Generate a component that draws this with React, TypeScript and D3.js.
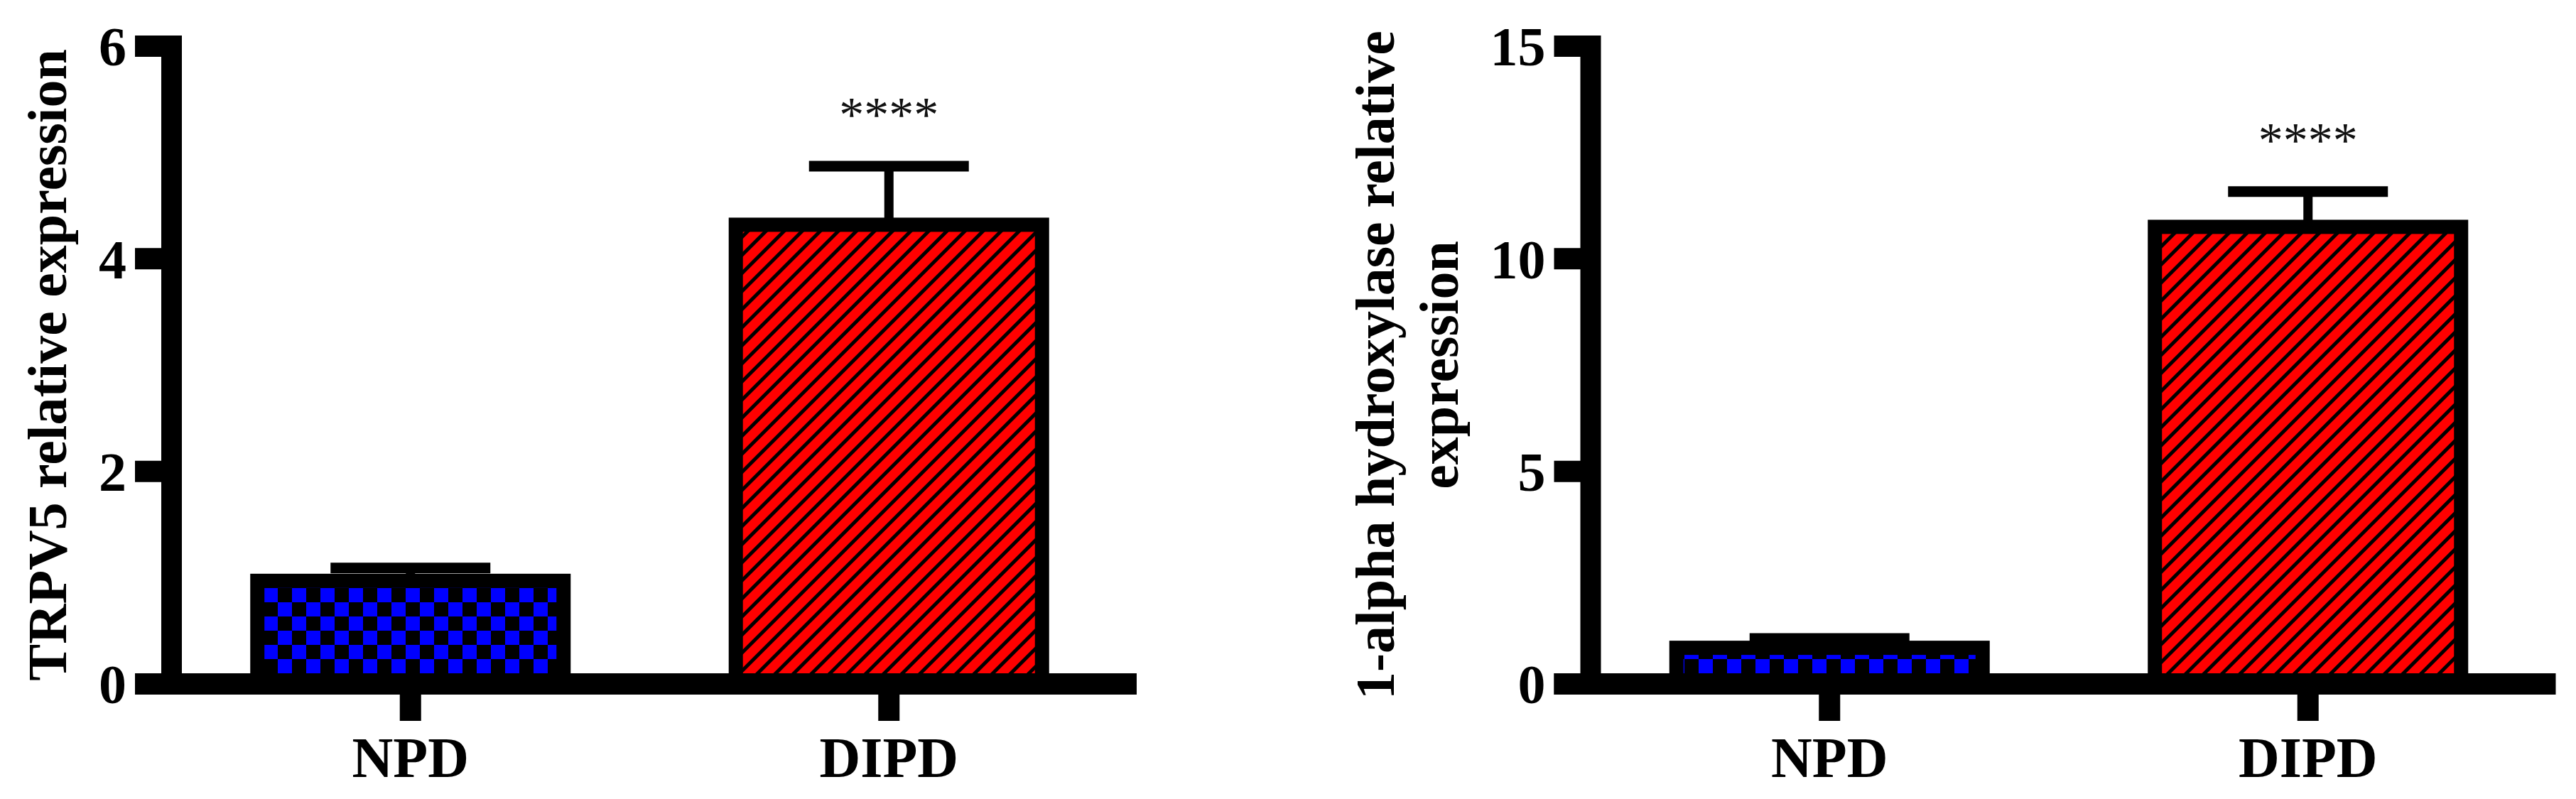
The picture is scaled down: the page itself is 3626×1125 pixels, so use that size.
import React from "react";
import * as d3 from "d3";

const categories = ["NPD", "DIPD"];
const trpv5Means = [0.97, 4.32];
const trpv5Errors = [0.12, 0.55];
const ohaseMeans = [0.85, 10.75];
const ohaseErrors = [0.22, 0.83];
const trpv5Ticks = [0, 2, 4, 6];
const ohaseTicks = [0, 5, 10, 15];
const significance = ["", "****"];
const trpv5Title = ["TRPV5 relative expression"];
const ohaseTitle = ["1-alpha hydroxylase relative", "expression"];

const FONT = "'Liberation Serif', 'Times New Roman', serif";
const Y_BOTTOM = 963;
const Y_TOP = 65;

type ChartProps = {
  ox: number;
  means: number[];
  errs: number[];
  ticks: number[];
  titleLines: string[];
  titleXs: number[];
};

function Chart({ ox, means, errs, ticks, titleLines, titleXs }: ChartProps) {
  const ymax = ticks[ticks.length - 1];
  const y = d3.scaleLinear().domain([0, ymax]).range([Y_BOTTOM, Y_TOP]);
  const x = d3
    .scaleBand<string>()
    .domain(categories)
    .range([ox + 15, ox + 1331])
    .paddingInner(0.36)
    .paddingOuter(0.157);
  const bw = x.bandwidth();
  const fills = ["url(#checker)", "url(#hatch)"];
  const titleMid = (y(ymax) + y(0)) / 2;
  return (
    <g>
      {titleLines.map((t, i) => (
        <text
          key={t}
          transform={`translate(${titleXs[i]},${titleMid}) rotate(-90)`}
          textAnchor="middle"
          fontFamily={FONT}
          fontWeight="bold"
          fontSize={78}
          fill="#000"
        >
          {t}
        </text>
      ))}
      {categories.map((c, i) => {
        const cx = (x(c) as number) + bw / 2;
        const top = y(means[i]);
        const capY = y(means[i] + errs[i]);
        return (
          <g key={c}>
            <line x1={cx} x2={cx} y1={top} y2={capY} stroke="#000" strokeWidth={13} />
            <line x1={cx - 112.5} x2={cx + 112.5} y1={capY} y2={capY} stroke="#000" strokeWidth={15} />
            <rect
              x={x(c)}
              y={top}
              width={bw}
              height={y(0) - top}
              fill={fills[i]}
              stroke="#000"
              strokeWidth={20}
            />
            {significance[i] && (
              <text
                x={cx}
                y={capY - 82 + 0.47 * 70}
                textAnchor="middle"
                fontFamily={FONT}
                fontSize={70}
                fill="#111"
              >
                {significance[i]}
              </text>
            )}
            <line x1={cx} x2={cx} y1={y(0)} y2={y(0) + 52} stroke="#000" strokeWidth={30} />
            <text
              x={cx}
              y={1094}
              textAnchor="middle"
              fontFamily={FONT}
              fontWeight="bold"
              fontSize={80}
              fill="#000"
            >
              {c}
            </text>
          </g>
        );
      })}
      <line x1={ox} x2={ox} y1={y(ymax) - 15} y2={y(0) + 15} stroke="#000" strokeWidth={29} />
      {ticks.map((t) => (
        <g key={t}>
          <line x1={ox - 51.5} x2={ox} y1={y(t)} y2={y(t)} stroke="#000" strokeWidth={30} />
          <text
            x={ox - 63.5}
            y={y(t)}
            dy="0.35em"
            textAnchor="end"
            fontFamily={FONT}
            fontWeight="bold"
            fontSize={78}
            fill="#000"
          >
            {t}
          </text>
        </g>
      ))}
      <line x1={ox - 51.5} x2={ox + 1358.5} y1={y(0)} y2={y(0)} stroke="#000" strokeWidth={30} />
    </g>
  );
}

export default function App() {
  return (
    <div style={{ position: "absolute", left: 0, top: 0, width: 3626, height: 1125, background: "#fff" }}>
      <svg width={3626} height={1125} viewBox="0 0 3626 1125" style={{ display: "block" }}>
        <defs>
          <pattern id="checker" patternUnits="userSpaceOnUse" width={40} height={40} x={371} y={828}>
            <rect width={40} height={40} fill="#0000ff" />
            <rect x={20} y={0} width={20} height={20} fill="#000" />
            <rect x={0} y={20} width={20} height={20} fill="#000" />
          </pattern>
          <pattern id="hatch" patternUnits="userSpaceOnUse" width={18} height={18} patternTransform="rotate(45)">
            <rect width={18} height={18} fill="#ff0000" />
            <rect x={0} y={0} width={5} height={18} fill="#000" />
          </pattern>
        </defs>
        <rect width={3626} height={1125} fill="#fff" />
        <Chart
          ox={241.5}
          means={trpv5Means}
          errs={trpv5Errors}
          ticks={trpv5Ticks}
          titleLines={trpv5Title}
          titleXs={[93]}
        />
        <Chart
          ox={2239}
          means={ohaseMeans}
          errs={ohaseErrors}
          ticks={ohaseTicks}
          titleLines={ohaseTitle}
          titleXs={[1962, 2052]}
        />
      </svg>
    </div>
  );
}
